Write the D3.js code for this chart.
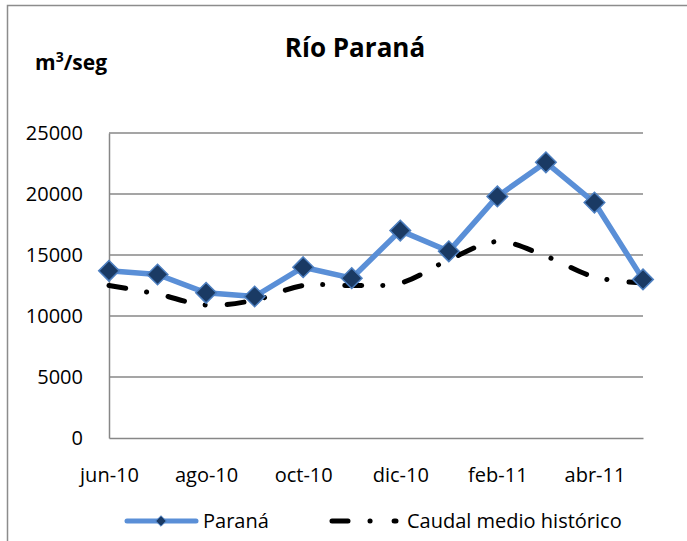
<!DOCTYPE html>
<html>
<head>
<meta charset="utf-8">
<script src="https://cdnjs.cloudflare.com/ajax/libs/d3/7.8.5/d3.min.js"></script>
<style>
  body { margin: 0; background: #fff; }
  svg text { font-family: "Open Sans", "Noto Sans", sans-serif; fill: #000; }
</style>
</head>
<body>
<svg id="chart" width="687" height="541"></svg>
<script>
// Datos
var months = ['jun-10', 'jul-10', 'ago-10', 'sep-10', 'oct-10', 'nov-10',
              'dic-10', 'ene-11', 'feb-11', 'mar-11', 'abr-11', 'may-11'];
var parana = [13700, 13400, 11900, 11600, 14000, 13100, 17000, 15300, 19800, 22600, 19300, 13000];
var historico = [12500, 11800, 10900, 11300, 12500, 12500, 12700, 14600, 16100, 14900, 13200, 12700];
var yTicks = [0, 5000, 10000, 15000, 20000, 25000];
var seriesNames = ['Paraná', 'Caudal medio histórico'];

var svg = d3.select('#chart');

// chart frame (cropped on the right and bottom like the original)
svg.append('rect')
  .attr('x', 7.5).attr('y', 5.5)
  .attr('width', 720).attr('height', 600)
  .attr('fill', 'none')
  .attr('stroke', '#8c8c8c')
  .attr('stroke-width', 1.5);

var margin = { left: 109, right: 44, top: 133, bottom: 103 };
var width = 687 - margin.left - margin.right;
var height = 541 - margin.top - margin.bottom;

var g = svg.append('g').attr('transform', 'translate(' + margin.left + ',' + margin.top + ')');

var x = d3.scalePoint().domain(months).range([0, width]);
var y = d3.scaleLinear().domain([0, 25000]).range([height, 0]);

// gridlines
g.selectAll('.grid')
  .data(yTicks.filter(function (d) { return d > 0; }))
  .enter().append('line')
  .attr('x1', 0).attr('x2', width)
  .attr('y1', function (d) { return y(d); })
  .attr('y2', function (d) { return y(d); })
  .attr('stroke', '#878787')
  .attr('stroke-width', 1.5);

// y axis
var yAxis = g.append('g').call(d3.axisLeft(y).tickValues(yTicks)
  .tickFormat(d3.format('d')).tickSize(0).tickPadding(26));
yAxis.select('.domain').attr('stroke', '#878787').attr('stroke-width', 1.5);
yAxis.selectAll('text').style('font-size', '20px');

// x axis
var xAxis = g.append('g')
  .attr('transform', 'translate(0,' + height + ')')
  .call(d3.axisBottom(x)
    .tickValues(months.filter(function (d, i) { return i % 2 === 0; }))
    .tickSize(0).tickPadding(30));
xAxis.select('.domain').attr('stroke', '#878787').attr('stroke-width', 1.5);
xAxis.selectAll('text').style('font-size', '20px');

// historical mean (smoothed, dash-dot)
var histLine = d3.line()
  .x(function (d, i) { return x(months[i]); })
  .y(function (d) { return y(d); })
  .curve(d3.curveCatmullRom);

var dash = '17,21,0.1,22';

g.append('path')
  .datum(historico)
  .attr('d', histLine)
  .attr('fill', 'none')
  .attr('stroke', '#000')
  .attr('stroke-width', 5)
  .attr('stroke-linecap', 'round')
  .attr('stroke-dasharray', dash);

// Parana series
var paraLine = d3.line()
  .x(function (d, i) { return x(months[i]); })
  .y(function (d) { return y(d); });

g.append('path')
  .datum(parana)
  .attr('d', paraLine)
  .attr('fill', 'none')
  .attr('stroke', '#5a8fd7')
  .attr('stroke-width', 5.5)
  .attr('stroke-linejoin', 'round');

var diamond = d3.symbol().type(d3.symbolDiamond2).size(270);
g.selectAll('.pt')
  .data(parana)
  .enter().append('path')
  .attr('d', diamond)
  .attr('transform', function (d, i) { return 'translate(' + x(months[i]) + ',' + y(d) + ')'; })
  .attr('fill', '#1a3a64')
  .attr('stroke', '#4d7fc0')
  .attr('stroke-width', 1.5);

// titles
svg.append('text')
  .attr('x', 355).attr('y', 57)
  .attr('text-anchor', 'middle')
  .style('font-size', '26px').style('font-weight', 'bold')
  .text('Río Paraná');

var unit = svg.append('text')
  .attr('x', 35).attr('y', 70)
  .style('font-size', '21px').style('font-weight', 'bold');
unit.append('tspan').text('m');
unit.append('tspan').attr('dy', -8).style('font-size', '14px').text('3');
unit.append('tspan').attr('dy', 8).text('/seg');

// legend
var lg = svg.append('g').attr('transform', 'translate(0,521)');
lg.append('line')
  .attr('x1', 127).attr('x2', 196).attr('y1', 0).attr('y2', 0)
  .attr('stroke', '#5a8fd7').attr('stroke-width', 5)
  .attr('stroke-linecap', 'round');
lg.append('path')
  .attr('d', d3.symbol().type(d3.symbolDiamond2).size(70))
  .attr('transform', 'translate(161,0)')
  .attr('fill', '#1a3a64').attr('stroke', '#4d7fc0').attr('stroke-width', 1);
lg.append('text')
  .attr('x', 203).attr('y', 7)
  .style('font-size', '20px')
  .text(seriesNames[0]);

lg.append('line')
  .attr('x1', 332).attr('x2', 396).attr('y1', 0).attr('y2', 0)
  .attr('stroke', '#000').attr('stroke-width', 5)
  .attr('stroke-linecap', 'round')
  .attr('stroke-dasharray', '16,22,0.1,24');
lg.append('text')
  .attr('x', 407).attr('y', 7)
  .style('font-size', '20px')
  .text(seriesNames[1]);
</script>
</body>
</html>
